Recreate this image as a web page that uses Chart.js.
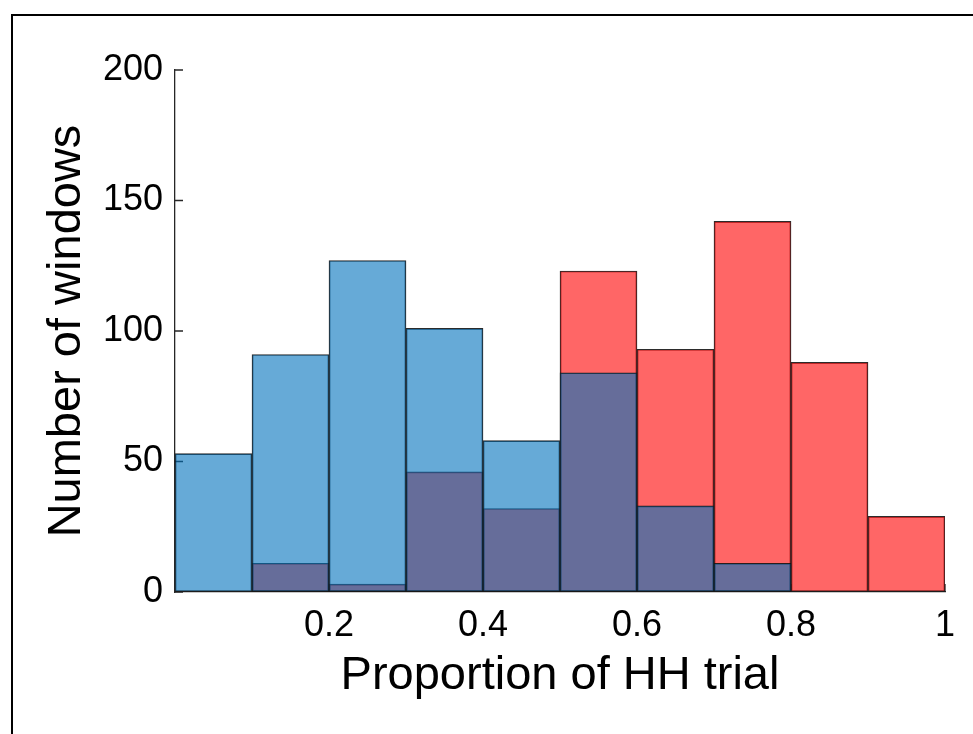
<!DOCTYPE html>
<html>
<head>
<meta charset="utf-8">
<script src="https://cdn.jsdelivr.net/npm/chart.js@4.4.1/dist/chart.umd.min.js"></script>
<style>
  html, body { margin: 0; padding: 0; background: #fff; }
  #wrap { position: relative; width: 973px; height: 734px; }
  #frame { position: absolute; left: 11px; top: 14px; right: 0; bottom: 0;
           border-top: 2px solid #000; border-left: 2px solid #000; pointer-events: none; }
</style>
</head>
<body>
<div id="wrap">
  <canvas id="hist" width="973" height="734"></canvas>
  <div id="frame"></div>
</div>
<script>
// histogram bins (centres of 0.1 wide bins)
const binCenters = [0.05, 0.15, 0.25, 0.35, 0.45, 0.55, 0.65, 0.75, 0.85, 0.95];
const blueCounts = [53, 91, 127, 101, 58, 84, 33, 11, 0, 0];
const redCounts  = [0, 11, 3, 46, 32, 123, 93, 142, 88, 29];
const yTicks = [0, 50, 100, 150, 200];
const xTicks = [0.2, 0.4, 0.6, 0.8, 1];

const fontFam = '"Liberation Sans", Arial, Helvetica, sans-serif';

// MATLAB style ticks pointing into the axes
const innerTicks = {
  id: 'innerTicks',
  beforeDatasetsDraw(chart) {
    const ctx = chart.ctx, xs = chart.scales.x, ys = chart.scales.y;
    ctx.save();
    ctx.strokeStyle = '#262626';
    ctx.lineWidth = 1.3;
    ctx.beginPath();
    yTicks.forEach(v => {
      const py = ys.getPixelForValue(v);
      ctx.moveTo(xs.left, py);
      ctx.lineTo(xs.left + 8, py);
    });
    xTicks.forEach(v => {
      const px = xs.getPixelForValue(v);
      ctx.moveTo(px, ys.bottom);
      ctx.lineTo(px, ys.bottom - 8);
    });
    ctx.stroke();
    ctx.restore();
  }
};

new Chart(document.getElementById('hist'), {
  type: 'bar',
  data: {
    datasets: [
      {
        label: 'blue',
        data: binCenters.map((c, i) => ({x: c, y: blueCounts[i]})),
        backgroundColor: 'rgba(0,114,189,0.6)',
        borderColor: 'rgba(20,20,20,0.9)',
        borderWidth: 1,
        borderSkipped: false
      },
      {
        label: 'red',
        data: binCenters.map((c, i) => ({x: c, y: redCounts[i]})),
        backgroundColor: 'rgba(255,0,0,0.6)',
        borderColor: 'rgba(20,20,20,0.9)',
        borderWidth: 1,
        borderSkipped: false
      }
    ]
  },
  options: {
    responsive: false,
    animation: false,
    grouped: false,
    barPercentage: 1,
    categoryPercentage: 1,
    layout: { padding: { top: 70, right: 28, left: 0, bottom: 0 } },
    plugins: { legend: { display: false }, tooltip: { enabled: false } },
    scales: {
      x: {
        type: 'linear',
        min: 0, max: 1,
        offset: false,
        afterBuildTicks: s => { s.ticks = [0].concat(xTicks).map(v => ({value: v})); },
        afterFit: s => { s.height = 142; },
        grid: { drawOnChartArea: false, drawTicks: false },
        border: { display: true, color: '#262626', width: 1.3 },
        ticks: {
          padding: 12,
          color: '#000',
          maxRotation: 0,
          font: { family: fontFam, size: 36 },
          callback: v => (v === 0 ? '' : String(v))
        },
        title: {
          display: true,
          text: 'Proportion of HH trial',
          color: '#000',
          font: { family: fontFam, size: 47 },
          padding: { top: 0, bottom: 30 }
        }
      },
      y: {
        min: 0, max: 200,
        afterBuildTicks: s => { s.ticks = yTicks.map(v => ({value: v})); },
        afterFit: s => { s.width = 175; },
        grid: { drawOnChartArea: false, drawTicks: false },
        border: { display: true, color: '#262626', width: 1.3 },
        ticks: {
          padding: 12,
          color: '#000',
          font: { family: fontFam, size: 36 }
        },
        title: {
          display: true,
          text: 'Number of windows',
          color: '#000',
          font: { family: fontFam, size: 47 },
          padding: { top: 39, bottom: 0 }
        }
      }
    }
  },
  plugins: [innerTicks]
});
</script>
</body>
</html>
